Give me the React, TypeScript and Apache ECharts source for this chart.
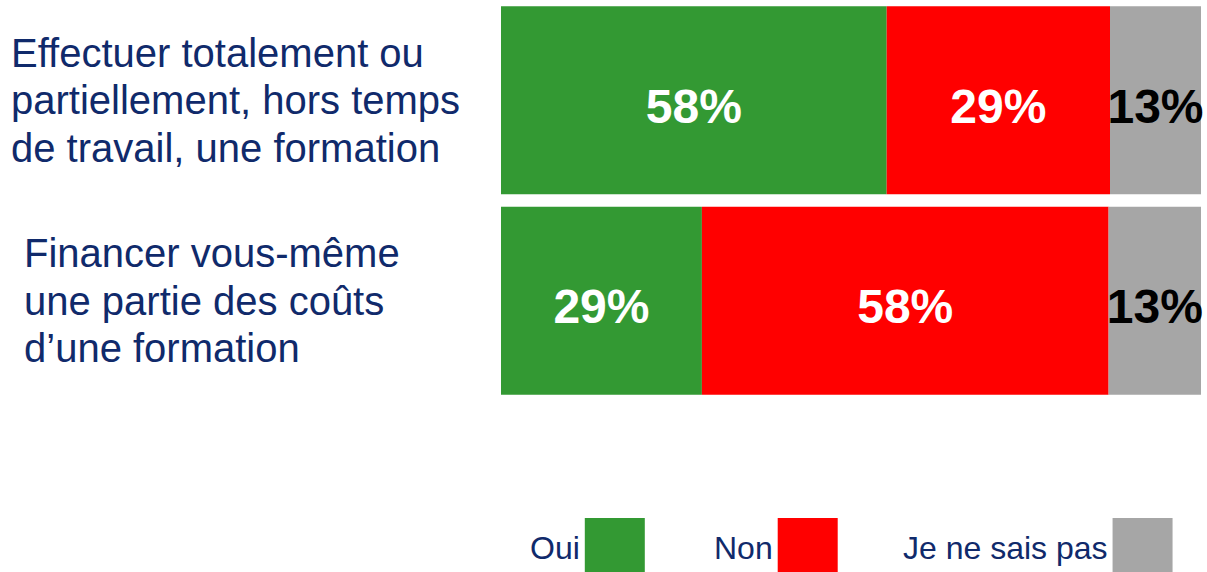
import React, { useEffect, useRef } from "react";
import * as echarts from "echarts";

const categories = [
  "Effectuer totalement ou\npartiellement, hors temps\nde travail, une formation",
  "Financer vous-même\nune partie des coûts\nd’une formation",
];
const seriesNames = ["Oui", "Non", "Je ne sais pas"];
const ouiValues = [55.1, 28.7];
const nonValues = [31.9, 58.1];
const nspValues = [13.0, 13.2];
const ouiLabels = ["58%", "29%"];
const nonLabels = ["29%", "58%"];
const nspLabels = ["13%", "13%"];

const NAVY = "#102a6b";
const FONT = "'Liberation Sans', Arial, sans-serif";

export default function App() {
  const ref = useRef<HTMLDivElement>(null);
  useEffect(() => {
    if (!ref.current) return;
    const chart = echarts.init(ref.current, null, { renderer: "svg" });
    const mk = (name: string, values: number[], labels: string[], color: string, labelColor: string) => ({
      name,
      type: "bar",
      stack: "total",
      barWidth: 188,
      data: values,
      itemStyle: { color },
      label: {
        show: true,
        position: "inside",
        offset: [0, 6],
        color: labelColor,
        fontFamily: FONT,
        fontSize: 48,
        fontWeight: "bold",
        formatter: (p: any) => labels[p.dataIndex],
      },
    });
    const legendBase = {
      top: 513,
      icon: "rect",
      align: "right",
      itemWidth: 60,
      itemHeight: 60,
      textStyle: { color: NAVY, fontFamily: FONT, fontSize: 32 },
    };
    chart.setOption({
      animation: false,
      textStyle: { fontFamily: FONT },
      grid: { left: 501, right: 6, top: 0, height: 401, containLabel: false },
      xAxis: { type: "value", min: 0, max: 100, show: false },
      yAxis: {
        type: "category",
        inverse: true,
        data: categories,
        axisLine: { show: false },
        axisTick: { show: false },
        splitLine: { show: false },
        axisLabel: {
          align: "left",
          margin: 490,
          color: NAVY,
          fontFamily: FONT,
          fontSize: 40,
          lineHeight: 47.5,
          formatter: (value: string, index: number) =>
            index === 0
              ? value
              : value
                  .split("\n")
                  .map((l) => `{b|${l}}`)
                  .join("\n"),
          rich: {
            b: {
              padding: [0, 0, 0, 13],
              color: NAVY,
              fontFamily: FONT,
              fontSize: 40,
              lineHeight: 47.5,
            },
          },
        },
      },
      legend: [
        { ...legendBase, left: 525, data: [seriesNames[0]] },
        { ...legendBase, left: 709, data: [seriesNames[1]] },
        { ...legendBase, left: 898, data: [seriesNames[2]] },
      ],
      series: [
        mk(seriesNames[0], ouiValues, ouiLabels, "#339933", "#ffffff"),
        mk(seriesNames[1], nonValues, nonLabels, "#ff0000", "#ffffff"),
        mk(seriesNames[2], nspValues, nspLabels, "#a6a6a6", "#000000"),
      ],
    });
    return () => chart.dispose();
  }, []);
  return (
    <div
      ref={ref}
      style={{ position: "fixed", left: 0, top: 0, width: 1207, height: 572, background: "#fff" }}
    />
  );
}
